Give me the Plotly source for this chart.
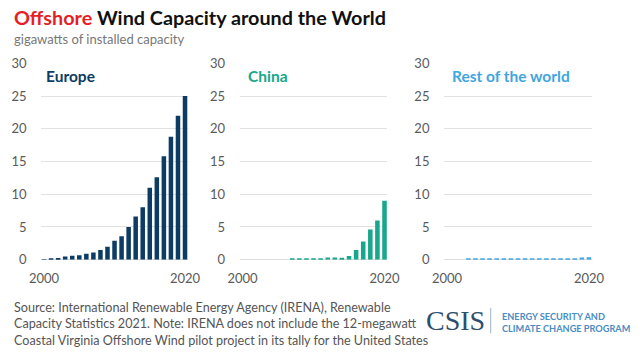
import plotly.graph_objects as go

W, H = 640, 353

years_europe = list(range(2000, 2021))
europe = [0.04, 0.07, 0.26, 0.5, 0.6, 0.7, 0.9, 1.1, 1.5, 2.0, 2.9, 3.6,
          5.0, 6.6, 8.0, 11.0, 12.6, 15.8, 18.8, 22.0, 25.0]

years_china = list(range(2007, 2021))
china = [0.12, 0.12, 0.12, 0.12, 0.15, 0.35, 0.35, 0.3, 0.55, 1.5, 2.8, 4.6, 6.0, 9.0]

years_row = list(range(2003, 2021))
rest = [0.15, 0.15, 0.15, 0.15, 0.15, 0.15, 0.15, 0.15, 0.15, 0.15, 0.15,
        0.15, 0.15, 0.15, 0.15, 0.2, 0.35, 0.38]

y_ticks = [0, 5, 10, 15, 20, 25, 30]
x_ticks = [2000, 2020]

panel_names = ["Europe", "China", "Rest of the world"]
panel_colors = ["#0c3c64", "#17a78a", "#3fa6e0"]

FONT = "Lato"

# the photographed page shows the figure with a small border; map target pixels
SX, OX = 0.9697, 9.7
SY, OY = 0.9464, 9.46


def px(x):
    return max(0.0, (x - OX) / SX) / W


def py(y):
    return 1 - ((y - OY) / SY) / H


fig = go.Figure()

panels = [(years_europe, europe), (years_china, china), (years_row, rest)]
x_doms = [(39, 187), (239, 388), (445, 594)]
title_x = [42, 245, 451]

for i, ((xs, ys), col) in enumerate(zip(panels, panel_colors)):
    sfx = "" if i == 0 else str(i + 1)
    fig.add_trace(go.Bar(x=xs, y=ys, marker=dict(color=col, line=dict(width=0)),
                         width=0.64, xaxis="x" + sfx, yaxis="y" + sfx,
                         showlegend=False, hoverinfo="x+y"))
    fig.layout["xaxis" + sfx] = dict(
        domain=[px(x_doms[i][0]), px(x_doms[i][1])], anchor="y" + sfx,
        range=[1999.58, 2020.42], tickvals=x_ticks, ticktext=[str(t) for t in x_ticks],
        showgrid=False, zeroline=False, showline=False,
        ticks="outside", ticklen=7, tickcolor="rgba(0,0,0,0)",
        tickfont=dict(family=FONT, size=13, color="#5a5a5a"))
    fig.layout["yaxis" + sfx] = dict(
        domain=[py(259), py(64.3)], anchor="x" + sfx, range=[0, 30],
        tickvals=y_ticks, showgrid=True, gridcolor="#e2e2e2", gridwidth=1,
        zeroline=True, zerolinecolor="#dcdcdc", zerolinewidth=1, showline=False,
        ticks="outside", ticklen=11, tickcolor="rgba(0,0,0,0)",
        tickfont=dict(family=FONT, size=13, color="#5a5a5a"))
    fig.add_annotation(text="<b>%s</b>" % panel_names[i], xref="paper", yref="paper",
                       x=px(title_x[i]), y=py(77), xanchor="left", yanchor="middle",
                       showarrow=False, font=dict(family=FONT, size=15.5, color=col))

fig.add_annotation(
    text="<b><span style='color:#e41f26'>Offshore</span> Wind Capacity around the World</b>",
    xref="paper", yref="paper", x=px(3), y=py(18), xanchor="left", yanchor="middle",
    showarrow=False, font=dict(family=FONT, size=19.8, color="#111111"))
fig.add_annotation(
    text="gigawatts of installed capacity", xref="paper", yref="paper",
    x=px(3), y=py(40), xanchor="left", yanchor="middle", showarrow=False,
    font=dict(family=FONT, size=13, color="#777777"))

footer = ["Source: International Renewable Energy Agency (IRENA), Renewable",
          "Capacity Statistics 2021. Note: IRENA does not include the 12-megawatt",
          "Coastal Virginia Offshore Wind pilot project in its tally for the United States"]
for j, line in enumerate(footer):
    fig.add_annotation(text=line, xref="paper", yref="paper", x=px(3), y=py(306 + 16.5 * j),
                       xanchor="left", yanchor="middle", showarrow=False,
                       font=dict(family=FONT, size=12.6, color="#555555"))

fig.add_annotation(text="CSIS", xref="paper", yref="paper", x=px(425), y=py(319),
                   xanchor="left", yanchor="middle", showarrow=False,
                   font=dict(family="Liberation Serif", size=28, color="#2d4f6d"))
fig.add_shape(type="line", xref="paper", yref="paper", x0=px(492), x1=px(492),
              y0=py(307), y1=py(332), line=dict(color="#9db4c8", width=1))
fig.add_annotation(text="<b>ENERGY SECURITY AND<br>CLIMATE CHANGE PROGRAM</b>",
                   xref="paper", yref="paper", x=px(501), y=py(321), xanchor="left",
                   yanchor="middle", align="left", showarrow=False,
                   font=dict(family=FONT, size=9.2, color="#4a8cc4"))

fig.update_layout(width=W, height=H, margin=dict(l=0, r=0, t=0, b=0),
                  paper_bgcolor="white", plot_bgcolor="white", bargap=0.3)

fig.write_html("out.html")
